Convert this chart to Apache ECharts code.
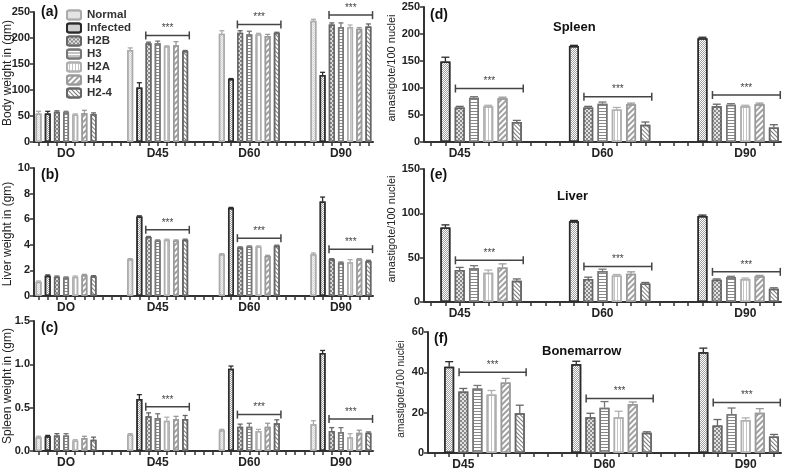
<!DOCTYPE html>
<html><head><meta charset="utf-8">
<script src="https://cdn.jsdelivr.net/npm/echarts@6/dist/echarts.min.js"></script>
<style>html,body{margin:0;padding:0;background:#fff}#c{width:787px;height:471px}</style>
</head><body><div id="c"></div>
<script>
const seriesNames = ['Normal','Infected','H2B','H3','H2A','H4','H2-4'];
const groupsABC = ['DO','D45','D60','D90'];
const groupsDEF = ['D45','D60','D90'];
const yTitles = ['Body weight in (gm)','Liver weight in (gm)','Spleen weight in (gm)','amastigote/100 nuclei','amastigote/100 nuclei','amastigote/100 nuclei'];

// (a) body weight, rows = Normal..H2-4, cols = DO,D45,D60,D90
const bodyWeight = [[55,177,208,233],[55,105,121,129],[58,190,210,226],[57,190,207,221],[53,184,207,221],[56,186,204,218],[54,175,210,222]];
const bodyWeightErr = [[4,4,6,3],[4,9,1,5],[2,2,4,3],[2,4,6,8],[1,1,2,4],[5,7,3,2],[2,1,1,5]];
const bodyWeightSig = [205,226,244];
// (b) liver weight
const liverWeight = [[1.12,2.87,3.26,3.26],[1.59,6.21,6.87,7.39],[1.51,4.6,3.79,2.87],[1.44,4.33,3.86,2.61],[1.51,4.39,3.86,2.64],[1.64,4.33,3.13,2.87],[1.54,4.39,3.92,2.74]];
const liverWeightErr = [[0.05,0.05,0.05,0.1],[0.05,0.05,0.05,0.34],[0.05,0.05,0.05,0.05],[0.05,0.05,0.05,0.05],[0.05,0.05,0.05,0.2],[0.05,0.05,0.05,0.05],[0.05,0.05,0.05,0.05]];
const liverWeightSig = [5.17,4.52,3.66];
// (c) spleen weight
const spleenWeight = [[0.16,0.19,0.24,0.31],[0.17,0.60,0.95,1.13],[0.18,0.40,0.28,0.23],[0.18,0.38,0.28,0.22],[0.12,0.35,0.23,0.16],[0.15,0.37,0.28,0.21],[0.13,0.37,0.32,0.21]];
const spleenWeightErr = [[0.01,0.01,0.01,0.04],[0.01,0.05,0.03,0.03],[0.02,0.04,0.03,0.04],[0.02,0.05,0.04,0.05],[0.01,0.04,0.02,0.04],[0.02,0.03,0.04,0.03],[0.03,0.04,0.04,0.01]];
const spleenWeightSig = [0.51,0.42,0.37];
// (d) spleen amastigotes, rows = Infected..H2-4, cols = D45,D60,D90
const spleenAmast = [[149,178,192],[64,64,66],[82,71,69],[66,60,66],[81,70,70],[37,32,27]];
const spleenAmastErr = [[8,1,2],[2,2,4],[2,3,2],[2,4,2],[2,2,2],[3,5,5]];
const spleenAmastSig = [99,84,87];
// (e) liver amastigotes
const liverAmast = [[84,91,97],[36,26,25],[38,35,28],[33,30,26],[39,32,29],[24,21,15]];
const liverAmastErr = [[3,1,1],[3,2,1],[3,2,1],[3,1,1],[4,2,1],[2,1,1]];
const liverAmastSig = [47,40,34];
// (f) bone marrow amastigotes
const boneAmast = [[42.8,44,50],[30.5,17.7,13.6],[32,22.5,19.3],[29,17.7,16.4],[35,24.3,20],[19.7,10,8.2]];
const boneAmastErr = [[2.5,1.5,2],[1.5,2,3],[1.5,3,3],[2,3,1],[2,1,2],[4,0.5,1]];
const boneAmastSig = [40,27,25];

const styles = [
  {color:'#d6d6d6', borderColor:'#ababab', decal:{symbol:'rect',symbolSize:1,dashArrayX:[[1,1],[0,1,1,0]],dashArrayY:[1,0],color:'rgba(255,255,255,0.7)'}},
  {color:'#ffffff', borderColor:'#2b2b2b', decal:{symbol:'rect',symbolSize:1,dashArrayX:[[1,1],[0,1,1,0]],dashArrayY:[1,0],color:'#a0a0a0'}},
  {color:'#8a8a8a', borderColor:'#666666', decal:{symbol:'circle',symbolSize:1,dashArrayX:[[2,2],[0,2,2,0]],dashArrayY:[2,0],color:'#ffffff'}},
  {color:'#ffffff', borderColor:'#777777', decal:{symbol:'rect',symbolSize:1,dashArrayX:[1,0],dashArrayY:[1,1.5],color:'#888888'}},
  {color:'#ffffff', borderColor:'#b0b0b0', decal:{symbol:'rect',symbolSize:1,dashArrayX:[1,0],dashArrayY:[1,1.5],rotation:Math.PI/2,color:'#c4c4c4'}},
  {color:'#ffffff', borderColor:'#9a9a9a', decal:{symbol:'rect',symbolSize:1,dashArrayX:[1,0],dashArrayY:[1.2,1.5],rotation:-Math.PI/4,color:'#a0a0a0'}},
  {color:'#ffffff', borderColor:'#666666', decal:{symbol:'rect',symbolSize:1,dashArrayX:[1,0],dashArrayY:[1,1.2],rotation:Math.PI/4,color:'#7a7a7a'}}
];

const FONT = 'Liberation Sans, Arial, sans-serif';
const panels = [
  {vals:bodyWeight, err:bodyWeightErr, sig:bodyWeightSig, groups:groupsABC, first:0, per:10, labelAt:[3,3,3,3], grid:{left:34,top:12,width:339,height:130}, y:{max:250,interval:50}, nameAt:[8,73], nameSize:12, barW:6, cap:5},
  {vals:liverWeight, err:liverWeightErr, sig:liverWeightSig, groups:groupsABC, first:0, per:10, labelAt:[3,3,3,3], grid:{left:34,top:168,width:339,height:128}, y:{max:10,interval:2}, nameAt:[8,234], nameSize:12, barW:6, cap:5},
  {vals:spleenWeight, err:spleenWeightErr, sig:spleenWeightSig, groups:groupsABC, first:0, per:10, labelAt:[3,3,3,3], grid:{left:34,top:321,width:339,height:130}, y:{max:1.5,interval:0.5,fmt:1}, nameAt:[8,386], nameSize:12, barW:6, cap:5},
  {vals:spleenAmast, err:spleenAmastErr, sig:spleenAmastSig, groups:groupsDEF, first:1, per:9, labelAt:[2,3,4], grid:{left:424,top:7,width:357,height:135}, y:{max:250,interval:50}, nameAt:[392,68], nameSize:11, barW:10, cap:8},
  {vals:liverAmast, err:liverAmastErr, sig:liverAmastSig, groups:groupsDEF, first:1, per:9, labelAt:[2,3,4], grid:{left:424,top:169,width:357,height:133}, y:{max:150,interval:50}, nameAt:[392,229], nameSize:11, barW:10, cap:8},
  {vals:boneAmast, err:boneAmastErr, sig:boneAmastSig, groups:groupsDEF, first:1, per:9, labelAt:[2,3,4], grid:{left:428,top:332,width:353,height:122}, y:{max:60,interval:20}, nameAt:[401,389], nameSize:10, barW:10, cap:8}
];

const grids=[], xAxes=[], yAxes=[], series=[], graphics=[];
panels.forEach((p, pi) => {
  const nSlots = p.groups.length * p.per - (p.per - 7);
  const cats = [];
  for (let i=0;i<nSlots;i++) cats.push('');
  p.groups.forEach((g, gi) => { cats[gi*p.per + p.labelAt[gi]] = g; });
  grids.push(p.grid);
  graphics.push({type:'text', x:p.nameAt[0], y:p.nameAt[1], rotation:Math.PI/2,
    style:{text:yTitles[pi], align:'center', verticalAlign:'middle', fontFamily:FONT, fontSize:p.nameSize, fill:'#222'}});
  xAxes.push({type:'category', gridIndex:pi, data:cats, boundaryGap:true,
    axisLine:{lineStyle:{color:'#333',width:2}},
    axisTick:{show:true, interval:0, alignWithLabel:true, length:4, lineStyle:{color:'#333',width:1.5}},
    axisLabel:{interval:0, fontFamily:FONT, fontWeight:'bold', fontSize:12, color:'#222', margin:6}});
  yAxes.push({type:'value', gridIndex:pi, min:0, max:p.y.max, interval:p.y.interval,
    axisLine:{show:true, lineStyle:{color:'#333',width:2}},
    axisTick:{show:true, length:4, lineStyle:{color:'#333',width:1.5}},
    splitLine:{show:false},
    axisLabel:{showMaxLabel:true, showMinLabel:true, fontFamily:FONT, fontWeight:'bold', fontSize:11, color:'#222', margin:4,
      formatter: v => p.y.fmt ? v.toFixed(p.y.fmt) : String(v)}});
  const errData = [];
  p.vals.forEach((row, ri) => {
    const s = ri + p.first;
    const data = new Array(nSlots).fill(null);
    row.forEach((v, gi) => {
      const slot = gi*p.per + s;
      data[slot] = v;
      errData.push([slot, v, p.err[ri][gi], s]);
    });
    series.push({type:'bar', name:seriesNames[s], xAxisIndex:pi, yAxisIndex:pi, data:data,
      barWidth:p.barW, barGap:'-100%',
      itemStyle:{color:styles[s].color, borderColor:styles[s].borderColor, borderWidth:1.5, decal:styles[s].decal}});
  });
  series.push({type:'custom', xAxisIndex:pi, yAxisIndex:pi, data:errData, encode:{x:0,y:1}, z:3,
    renderItem:(params, api) => {
      const x = api.value(0), v = api.value(1), e = api.value(2);
      const c = styles[api.value(3)].borderColor;
      const p0 = api.coord([x, v]), p1 = api.coord([x, v+e]);
      const w = p.cap/2;
      return {type:'group', children:[
        {type:'line', shape:{x1:p0[0],y1:p0[1],x2:p1[0],y2:p1[1]}, style:{stroke:c, lineWidth:1.3}},
        {type:'line', shape:{x1:p1[0]-w,y1:p1[1],x2:p1[0]+w,y2:p1[1]}, style:{stroke:c, lineWidth:1.3}}
      ]};
    }});
  const sigData = p.sig.map((y, k) => {
    const gi = p.groups.length - 3 + k;
    return [gi*p.per + 2, gi*p.per + 6, y];
  });
  series.push({type:'custom', xAxisIndex:pi, yAxisIndex:pi, data:sigData, encode:{x:[0,1],y:2}, z:4,
    renderItem:(params, api) => {
      const a = api.coord([api.value(0), api.value(2)]);
      const b = api.coord([api.value(1), api.value(2)]);
      const sw = api.size([1,0])[0];
      const xa = a[0] - 0.3*sw, xb = b[0] + 0.45*sw, y = a[1];
      return {type:'group', children:[
        {type:'line', shape:{x1:xa,y1:y,x2:xb,y2:y}, style:{stroke:'#444', lineWidth:1.5}},
        {type:'line', shape:{x1:xa,y1:y-4,x2:xa,y2:y+4}, style:{stroke:'#444', lineWidth:1.5}},
        {type:'line', shape:{x1:xb,y1:y-4,x2:xb,y2:y+4}, style:{stroke:'#444', lineWidth:1.5}},
        {type:'text', style:{x:(xa+xb)/2, y:y-2, text:'***', textAlign:'center', textVerticalAlign:'bottom', fontFamily:FONT, fontSize:10, fill:'#444'}}
      ]};
    }});
});

const titleStyle = {fontFamily:FONT, fontWeight:'bold', fontSize:14, color:'#111'};
const subStyle = {fontFamily:FONT, fontWeight:'bold', fontSize:13, color:'#111'};
const option = {
  animation:false,
  title:[
    {text:'(a)', left:41, top:5, textStyle:titleStyle, padding:0},
    {text:'(b)', left:41, top:168, textStyle:titleStyle, padding:0},
    {text:'(c)', left:41, top:321, textStyle:titleStyle, padding:0},
    {text:'(d)', left:430, top:8, textStyle:titleStyle, padding:0},
    {text:'(e)', left:430, top:168, textStyle:titleStyle, padding:0},
    {text:'(f)', left:434, top:332, textStyle:titleStyle, padding:0},
    {text:'Spleen', left:553, top:21, textStyle:subStyle, padding:0},
    {text:'Liver', left:557, top:190, textStyle:subStyle, padding:0},
    {text:'Bonemarrow', left:542, top:345, textStyle:subStyle, padding:0}
  ],
  legend:{orient:'vertical', left:66, top:9, itemWidth:14, itemHeight:9, itemGap:1, padding:0,
    selectedMode:false, data:seriesNames,
    textStyle:{fontFamily:FONT, fontWeight:'bold', fontSize:11.5, color:'#333', padding:[0,0,0,1]}},
  graphic:graphics,
  grid:grids, xAxis:xAxes, yAxis:yAxes, series:series
};
const chart = echarts.init(document.getElementById('c'), null, {renderer:'canvas'});
chart.setOption(option);
</script></body></html>
